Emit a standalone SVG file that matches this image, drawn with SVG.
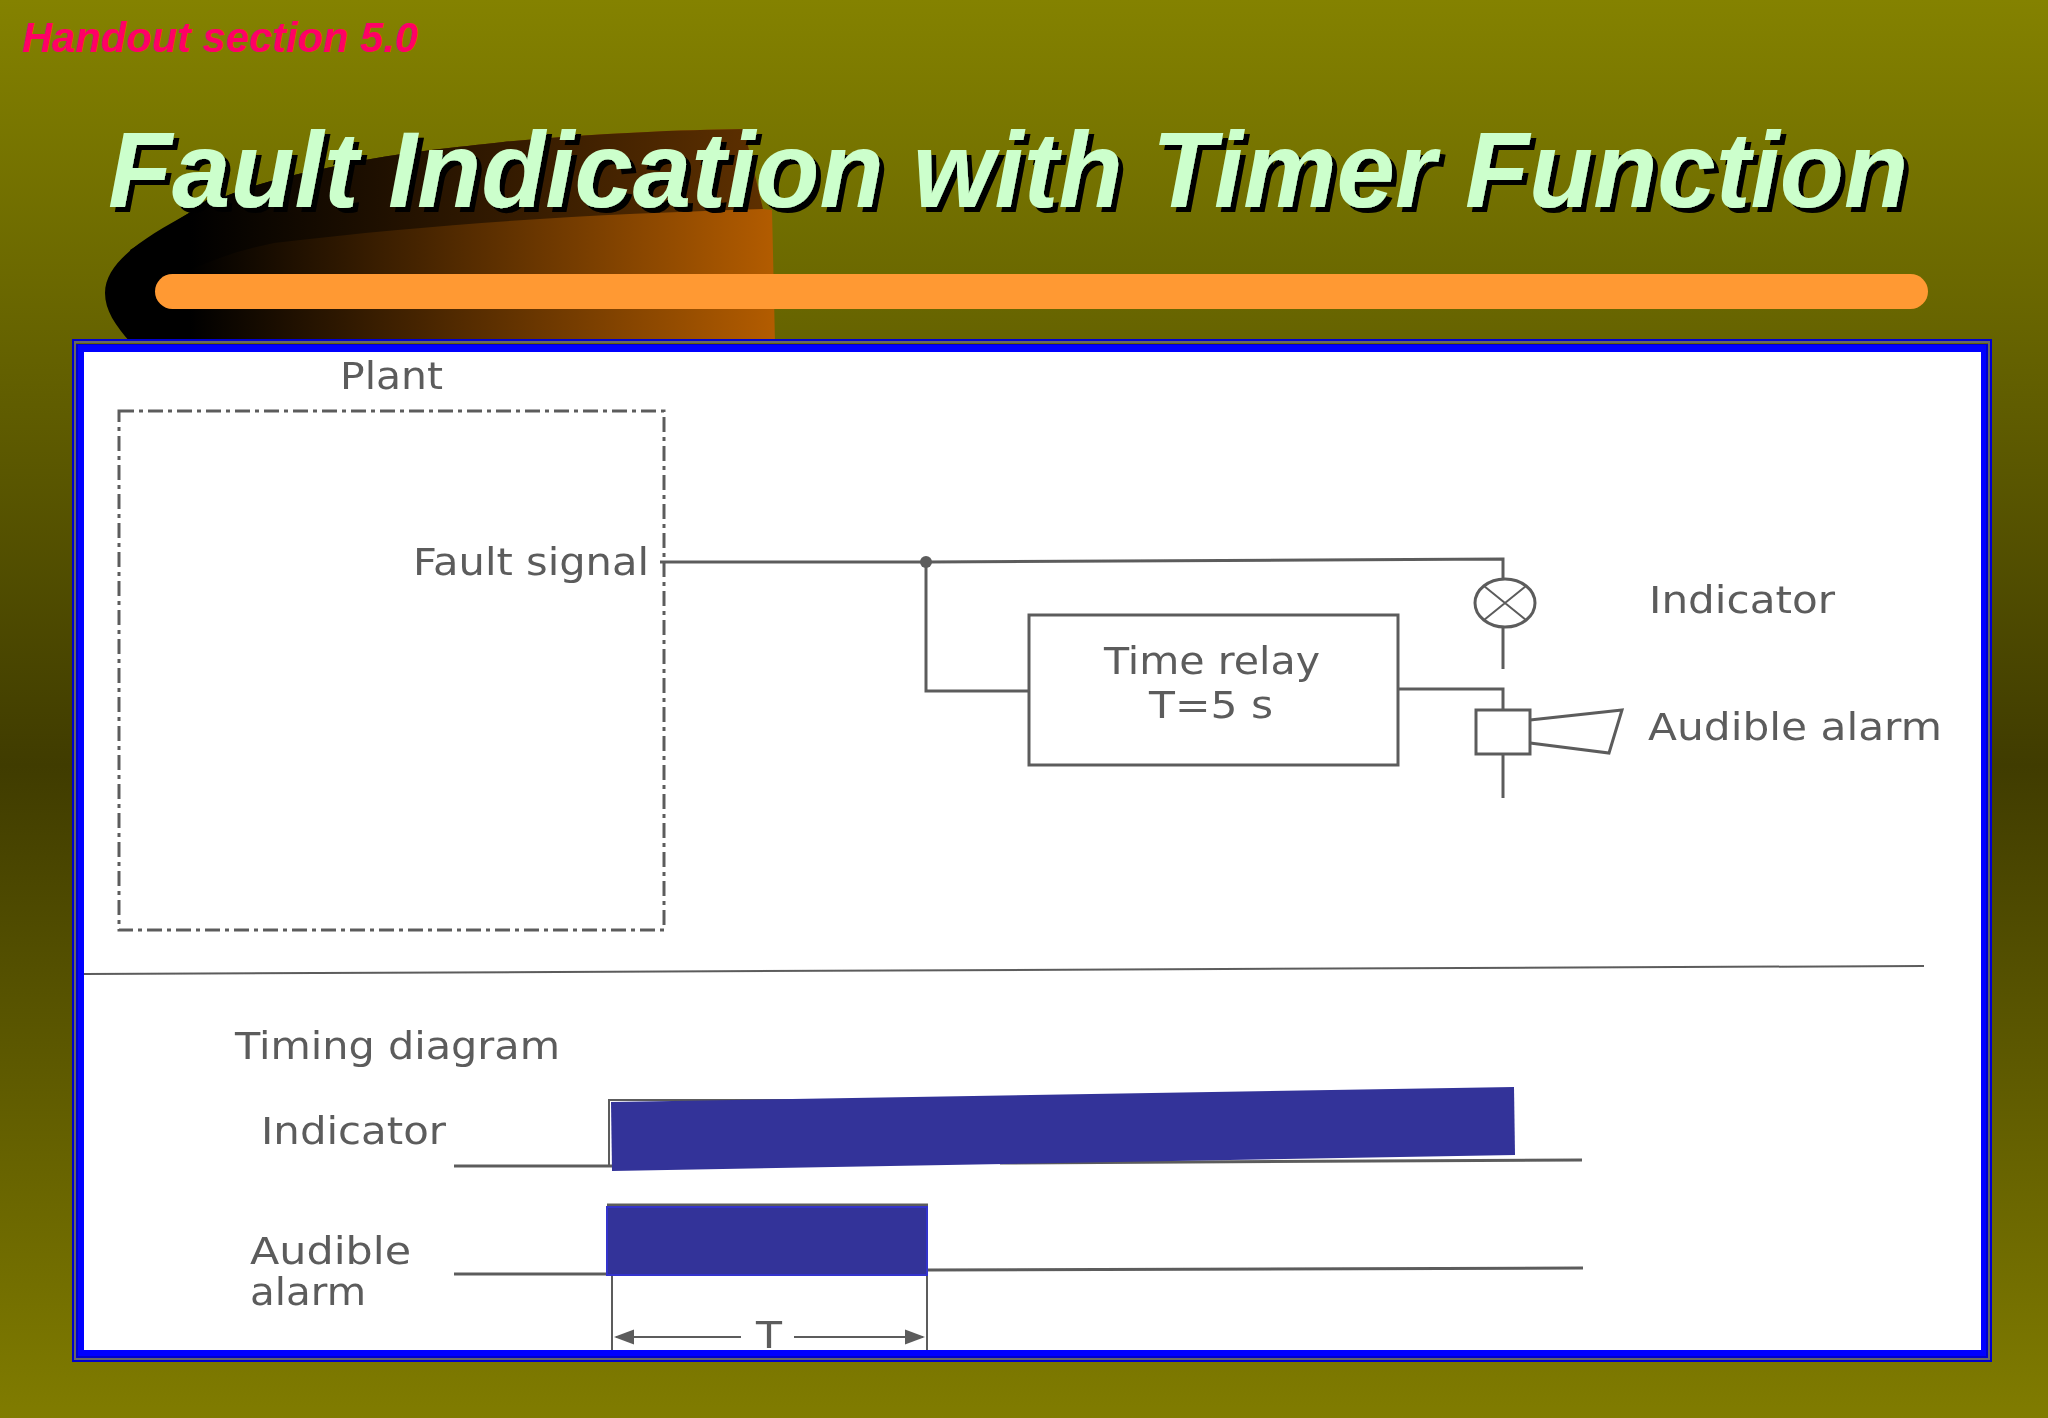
<svg xmlns="http://www.w3.org/2000/svg" width="2048" height="1418" viewBox="0 0 2048 1418">
<style>
.s{font-family:"DejaVu Sans","Liberation Sans",sans-serif;fill:#5c5c5c;font-size:37px;filter:url(#b)}
.w{fill:none;stroke:#5c5c5c;stroke-width:3;filter:url(#b)}
.t{font-family:"Liberation Sans",Arial,sans-serif;font-weight:bold;font-style:italic}
</style>
<defs>
<filter id="b" filterUnits="userSpaceOnUse" x="0" y="0" width="2048" height="1418"><feGaussianBlur stdDeviation="0.7"/></filter>
<filter id="sh" x="-2%" y="-10%" width="104%" height="130%"><feDropShadow dx="5" dy="5" stdDeviation="0.4" flood-color="#000"/></filter>
<linearGradient id="bg" x1="0" y1="0" x2="0" y2="1"><stop offset="0" stop-color="#848200"/><stop offset="0.54" stop-color="#403c00"/><stop offset="1" stop-color="#807c00"/></linearGradient>
<linearGradient id="sw" gradientUnits="userSpaceOnUse" x1="190" y1="0" x2="775" y2="0"><stop offset="0" stop-color="#000"/><stop offset="1" stop-color="#b35c00"/></linearGradient>
<linearGradient id="sd" gradientUnits="userSpaceOnUse" x1="190" y1="0" x2="765" y2="0"><stop offset="0" stop-color="#000"/><stop offset="1" stop-color="#5e3000"/></linearGradient>
<marker id="a" markerWidth="10" markerHeight="10" refX="9" refY="5" orient="auto-start-reverse"><path d="M0 1.25L10 5L0 8.75Z" fill="#5c5c5c"/></marker>
</defs>
<rect width="2048" height="1418" fill="url(#bg)"/>
<g id="swoosh">
<path d="M105 293C105 260 150 235 189 213C250 180 320 170 365 160C420 150 470 146 503 142C600 133 680 130 744 129L763 209L772 210L775 343L131 343C115 325 105 310 105 293Z" fill="url(#sw)"/>
<path d="M189 213C250 180 320 170 365 160C420 150 470 146 503 142C600 133 680 130 744 129L763 209C600 214 450 222 274 243C240 250 200 262 150 290L130 250Z" fill="url(#sd)"/>
</g>
<rect id="band" x="155" y="274" width="1773" height="35" rx="17.5" fill="#f93"/>
<g id="title">
<text class="t" x="22" y="52" font-size="42" textLength="396" lengthAdjust="spacingAndGlyphs" fill="#f06">Handout section 5.0</text>
<text class="t" x="108" y="207" font-size="108" textLength="1800" lengthAdjust="spacingAndGlyphs" fill="#cfc" filter="url(#sh)">Fault Indication with Timer Function</text>
</g>
<g id="frame">
<rect x="73" y="340" width="1918" height="1021" fill="none" stroke="#00c" stroke-width="2"/>
<rect x="75" y="342" width="1914" height="1017" fill="none" stroke="#666" stroke-width="2"/>
<rect x="76" y="344" width="1912" height="1014" fill="#00c"/>
<rect x="78" y="345" width="1908" height="1011" fill="#00f"/>
<rect x="84" y="352" width="1897" height="998" fill="#fff"/>
</g>
<g id="plant">
<rect class="w" x="119" y="411" width="545" height="519" stroke-dasharray="15 5 4 5"/>
<text class="s" x="340" y="389" textLength="103" lengthAdjust="spacingAndGlyphs">Plant</text>
<text class="s" x="413" y="575" textLength="236" lengthAdjust="spacingAndGlyphs">Fault signal</text>
</g>
<g id="connectors">
<path class="w" d="M660 562H926L1503 559V579"/>
<path class="w" d="M926 562V691H1029"/>
<circle cx="926" cy="562" r="6" fill="#5c5c5c"/>
<path class="w" d="M1503 627V669"/>
<path class="w" d="M1398 689H1503V710"/>
<path class="w" d="M1503 754V798"/>
<path class="w" style="stroke-width:2" d="M84 974L1924 966"/>
</g>
<g id="relay">
<rect class="w" x="1029" y="615" width="369" height="150"/>
<text class="s" x="1104" y="674" textLength="216" lengthAdjust="spacingAndGlyphs">Time relay</text>
<text class="s" x="1149" y="718" textLength="124" lengthAdjust="spacingAndGlyphs">T=5 s</text>
</g>
<g id="lamp">
<ellipse class="w" cx="1505" cy="603" rx="30" ry="24"/>
<path class="w" style="stroke-width:2" d="M1484 586L1526 620M1526 586L1484 620"/>
<text class="s" x="1649" y="613" textLength="186" lengthAdjust="spacingAndGlyphs">Indicator</text>
</g>
<g id="alarm">
<rect class="w" x="1476" y="710" width="54" height="44"/>
<path class="w" d="M1530 720L1622 710L1609 753L1530 743"/>
<text class="s" x="1648" y="740" textLength="294" lengthAdjust="spacingAndGlyphs">Audible alarm</text>
</g>
<g id="timing">
<text class="s" x="235" y="1059" textLength="325" lengthAdjust="spacingAndGlyphs">Timing diagram</text>
<text class="s" x="261" y="1144" textLength="185" lengthAdjust="spacingAndGlyphs">Indicator</text>
<text class="s" x="250" y="1264" textLength="161" lengthAdjust="spacingAndGlyphs">Audible</text>
<text class="s" x="250" y="1305" textLength="116" lengthAdjust="spacingAndGlyphs">alarm</text>
<path class="w" d="M454 1166H612"/>
<path class="w" style="stroke-width:2" d="M609 1166V1100H1000"/>
<path class="w" d="M1000 1163L1582 1160"/>
<path d="M611 1102L1514 1087L1515 1155L612 1171Z" fill="#339"/>
<path class="w" d="M607 1205H928M454 1274H607M927 1270L1583 1268"/>
<rect x="607" y="1207" width="320" height="68" fill="#339" stroke="#33c" stroke-width="2"/>
<path class="w" style="stroke-width:2" d="M612 1276V1350M927 1276V1350"/>
<path class="w" style="stroke-width:2" marker-start="url(#a)" d="M616 1337H741"/>
<path class="w" style="stroke-width:2" marker-end="url(#a)" d="M794 1337H923"/>
<text class="s" x="756" y="1348" textLength="26" lengthAdjust="spacingAndGlyphs">T</text>
</g>
</svg>
